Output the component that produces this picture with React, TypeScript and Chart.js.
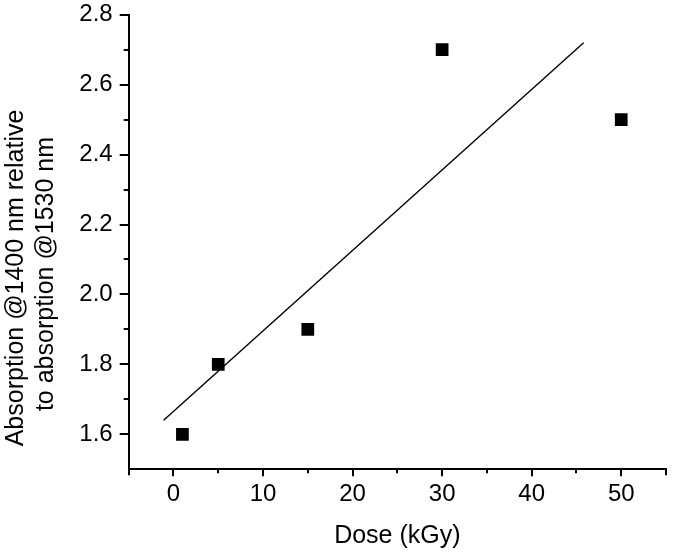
import React, { useEffect, useRef } from "react";
import { Chart, registerables } from "chart.js";

Chart.register(...registerables);

// Data
const doses = [1, 5, 15, 30, 50];
const ratios = [1.6, 1.8, 1.9, 2.7, 2.5];
// Linear fit line end points (as drawn in the reference)
const fitDoses = [-1.1, 45.8];
const fitRatios = [1.64, 2.72];

// Axis ticks
const xMajorTicks = [0, 10, 20, 30, 40, 50];
const xMinorTicks = [-5, 5, 15, 25, 35, 45, 55];
const yMajorTicks = [1.6, 1.8, 2.0, 2.2, 2.4, 2.6, 2.8];
const yMinorTicks = [1.7, 1.9, 2.1, 2.3, 2.5, 2.7];

const xTitle = "Dose (kGy)";
const yTitleLines = ["Absorption @1400 nm relative", "to absorption @1530 nm"];

const FONT = '"Liberation Sans", Arial, sans-serif';

const tickPlugin = {
  id: "originTicks",
  afterDraw(chart: any) {
    const ctx = chart.ctx;
    const xs = chart.scales.x;
    const ys = chart.scales.y;
    const area = chart.chartArea;
    ctx.save();
    ctx.strokeStyle = "#000";
    ctx.lineWidth = 2;
    ctx.lineCap = "butt";
    const bottom = area.bottom;
    const left = area.left;
    const drawX = (v: number, len: number) => {
      const px = Math.round(xs.getPixelForValue(v));
      ctx.beginPath();
      ctx.moveTo(px, bottom);
      ctx.lineTo(px, bottom + len);
      ctx.stroke();
    };
    const drawY = (v: number, len: number) => {
      const py = Math.round(ys.getPixelForValue(v));
      ctx.beginPath();
      ctx.moveTo(left, py);
      ctx.lineTo(left - len, py);
      ctx.stroke();
    };
    xMajorTicks.forEach((v) => drawX(v, 7));
    xMinorTicks.forEach((v, i) =>
      drawX(v, i === 0 || i === xMinorTicks.length - 1 ? 6 : 4)
    );
    yMajorTicks.forEach((v) => drawY(v, 9));
    yMinorTicks.forEach((v) => drawY(v, 5));

    // Y axis title (two lines, rotated)
    ctx.fillStyle = "#000";
    ctx.font = `25px ${FONT}`;
    ctx.textAlign = "center";
    ctx.textBaseline = "alphabetic";
    const cy = (area.top + area.bottom) / 2 + 35;
    const pos = [
      [23, cy + 1],
      [53, cy - 3],
    ];
    yTitleLines.forEach((line, i) => {
      ctx.save();
      ctx.translate(pos[i][0], pos[i][1]);
      ctx.rotate(-Math.PI / 2);
      ctx.fillText(line, 0, 0);
      ctx.restore();
    });
    ctx.restore();
  },
};

export default function App() {
  const ref = useRef<HTMLCanvasElement | null>(null);

  useEffect(() => {
    if (!ref.current) return;
    const chart = new Chart(ref.current, {
      type: "scatter",
      data: {
        datasets: [
          {
            type: "line",
            label: "Fit",
            data: fitDoses.map((x, i) => ({ x, y: fitRatios[i] })),
            borderColor: "#000",
            borderWidth: 1.4,
            pointRadius: 0,
            fill: false,
          } as any,
          {
            type: "scatter",
            label: "Data",
            data: doses.map((x, i) => ({ x, y: ratios[i] })),
            pointStyle: "rect",
            pointRadius: 9,
            pointHoverRadius: 9,
            backgroundColor: "#000",
            borderColor: "#000",
            borderWidth: 0,
          },
        ],
      },
      options: {
        responsive: false,
        animation: false,
        events: [],
        layout: { padding: { left: 0, right: 5.7, top: 14.7, bottom: 0 } },
        plugins: {
          legend: { display: false },
          tooltip: { enabled: false },
          title: { display: false },
        },
        scales: {
          x: {
            type: "linear",
            min: -5,
            max: 55,
            grid: { display: false, drawTicks: true, tickLength: 7 },
            border: { display: true, color: "#000", width: 2 },
            afterBuildTicks: (scale: any) => {
              scale.ticks = xMajorTicks.map((v) => ({ value: v }));
            },
            afterFit: (scale: any) => {
              scale.height = 86.7;
              scale.paddingLeft = 0;
              scale.paddingRight = 0;
            },
            ticks: {
              color: "#000",
              padding: 4,
              maxRotation: 0,
              autoSkip: false,
              font: { family: FONT, size: 24 },
              callback: (v: any) => String(v),
            },
            title: {
              display: true,
              text: xTitle,
              color: "#000",
              font: { family: FONT, size: 25 },
              padding: { top: 0, bottom: 5 },
            },
          },
          y: {
            type: "linear",
            min: 1.5,
            max: 2.8,
            grid: { display: false, drawTicks: true, tickLength: 9 },
            border: { display: true, color: "#000", width: 2 },
            afterBuildTicks: (scale: any) => {
              scale.ticks = yMajorTicks.map((v) => ({ value: v }));
            },
            afterFit: (scale: any) => {
              scale.width = 128.7;
              scale.paddingTop = 0;
              scale.paddingBottom = 0;
            },
            ticks: {
              color: "#000",
              padding: 7,
              autoSkip: false,
              font: { family: FONT, size: 24 },
              callback: (v: any) => Number(v).toFixed(1),
            },
            title: { display: false },
          },
        },
      },
      plugins: [tickPlugin],
    } as any);
    return () => chart.destroy();
  }, []);

  return (
    <div style={{ position: "fixed", left: 0, top: 0, width: 675, height: 556, background: "#fff" }}>
      <canvas ref={ref} width={675} height={556} style={{ display: "block" }} />
    </div>
  );
}
